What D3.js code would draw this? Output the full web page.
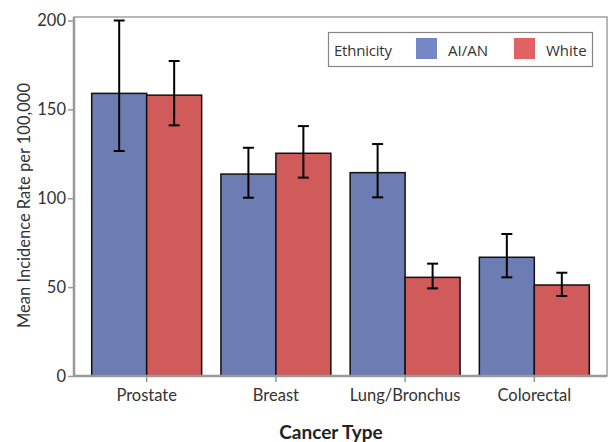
<html>
<head>
<script src="https://d3js.org/d3.v7.min.js"></script>
<style>
  body { margin: 0; background: #fff; }
  text { font-family: Lato, "Open Sans", sans-serif; }
</style>
</head>
<body>
<svg width="612" height="442" id="MAINSVG"></svg>
<script>
var SVG = d3.select("#MAINSVG");

var categories = ["Prostate", "Breast", "Lung/Bronchus", "Colorectal"];
var groups = ["AI/AN", "White"];
var mean_aian  = [159, 113.6, 114.4, 66.8];
var low_aian   = [126.6, 100.3, 100.5, 55.5];
var high_aian  = [200, 128.4, 130.5, 79.9];
var mean_white = [158, 125.3, 55.5, 51.2];
var low_white  = [141, 111.6, 49.3, 45];
var high_white = [177.2, 140.6, 63.2, 58.1];
var y_ticks = [0, 50, 100, 150, 200];

var bar_colors = {"AI/AN": "#6d7db3", "White": "#d05b5a"};
var legend_colors = {"AI/AN": "#7587c4", "White": "#e06262"};

var plot_left = 74, plot_right = 607, plot_top = 17, plot_bottom = 376;

var x = d3.scaleBand().domain(categories).range([plot_left, plot_right])
          .paddingInner(0.149).paddingOuter(0.137);
var xs = d3.scaleBand().domain(groups).range([0, x.bandwidth()]);
var y = d3.scaleLinear().domain([0, 200]).range([plot_bottom, 20.5]);

var rows = [];
categories.forEach(function(c, i) {
  rows.push({cat: c, g: "AI/AN", v: mean_aian[i], lo: low_aian[i], hi: high_aian[i]});
  rows.push({cat: c, g: "White", v: mean_white[i], lo: low_white[i], hi: high_white[i]});
});

// frame
SVG.append("rect")
   .attr("x", plot_left).attr("y", plot_top)
   .attr("width", plot_right - plot_left).attr("height", plot_bottom - plot_top)
   .attr("fill", "none").attr("stroke", "#a0a0a0").attr("stroke-width", 1.5);

// bars
SVG.selectAll(".bar").data(rows).enter().append("rect")
   .attr("class", "bar")
   .attr("x", function(d) { return x(d.cat) + xs(d.g); })
   .attr("y", function(d) { return y(d.v); })
   .attr("width", xs.bandwidth())
   .attr("height", function(d) { return y(0) - y(d.v); })
   .attr("fill", function(d) { return bar_colors[d.g]; })
   .attr("stroke", "#111").attr("stroke-width", 1.5);

// error bars
var cap = 5.5;
rows.forEach(function(d) {
  var cx = x(d.cat) + xs(d.g) + xs.bandwidth() / 2;
  SVG.append("line").attr("x1", cx).attr("x2", cx)
     .attr("y1", y(d.lo)).attr("y2", y(d.hi))
     .attr("stroke", "#000").attr("stroke-width", 2);
  [d.lo, d.hi].forEach(function(v) {
    SVG.append("line").attr("x1", cx - cap).attr("x2", cx + cap)
       .attr("y1", y(v)).attr("y2", y(v))
       .attr("stroke", "#000").attr("stroke-width", 2);
  });
});

// axes
var yAxis = SVG.append("g").attr("transform", "translate(" + plot_left + ",0)")
   .call(d3.axisLeft(y).tickValues(y_ticks).tickSize(6).tickPadding(2));
var xAxis = SVG.append("g").attr("transform", "translate(0," + plot_bottom + ")")
   .call(d3.axisBottom(x).tickSize(6).tickPadding(7));
[yAxis, xAxis].forEach(function(a) {
  a.select(".domain").attr("stroke", "#999").attr("stroke-width", 2.5);
  a.selectAll(".tick line").attr("stroke", "#999").attr("stroke-width", 1.5);
  a.selectAll(".tick text").attr("fill", "#333").style("font-size", "16.5px");
});
yAxis.select(".domain").attr("d", "M0," + plot_bottom + "V" + plot_top);
xAxis.select(".domain").attr("d", "M" + plot_left + ",0H" + plot_right);

// axis titles
SVG.append("text")
   .attr("transform", "translate(30," + ((plot_top + plot_bottom) / 2 + 9) + ") rotate(-90)")
   .attr("text-anchor", "middle").attr("fill", "#333").style("font-size", "16.5px")
   .text("Mean Incidence Rate per 100,000");
SVG.append("text")
   .attr("x", 331).attr("y", 439)
   .attr("text-anchor", "middle").attr("fill", "#222")
   .style("font-size", "19px").style("font-weight", "bold")
   .text("Cancer Type");

// legend
var lg = SVG.append("g");
lg.append("rect").attr("x", 328.5).attr("y", 32.5).attr("width", 264).attr("height", 34)
  .attr("fill", "#fff").attr("stroke", "#8a8585").attr("stroke-width", 1.2);
lg.append("text").attr("x", 334).attr("y", 56).attr("fill", "#333")
  .style("font-size", "15px").style("font-family", "'Open Sans', sans-serif")
  .attr("textLength", 58).text("Ethnicity");
var lx = {"AI/AN": 416, "White": 514};
groups.forEach(function(g) {
  lg.append("rect").attr("x", lx[g]).attr("y", 38).attr("width", 21).attr("height", 21)
    .attr("fill", legend_colors[g]);
  lg.append("text").attr("x", lx[g] + 32).attr("y", 56).attr("fill", "#333")
    .style("font-size", "15px").style("font-family", "'Open Sans', sans-serif")
    .text(g);
});
</script>
</body>
</html>
